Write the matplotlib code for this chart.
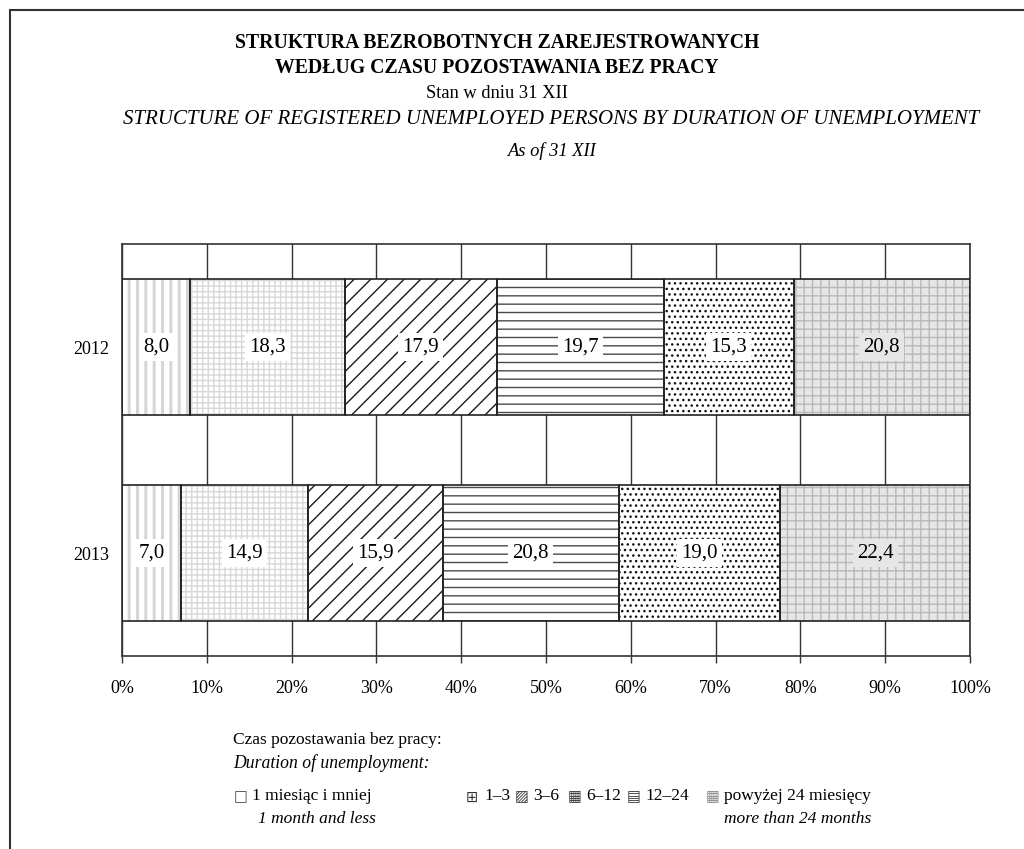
import matplotlib
matplotlib.use("Agg")
import matplotlib.pyplot as plt
import numpy as np
from matplotlib.lines import Line2D

plt.rcParams['font.family'] = ['Liberation Serif', 'DejaVu Sans']
plt.rcParams['font.size'] = 13
plt.rcParams['hatch.linewidth'] = 1.0

# data
years = ['2012', '2013']
categories = ['1 miesiąc i mniej', '1–3', '3–6', '6–12', '12–24', 'powyżej 24 miesięcy']
v2012 = [8.0, 18.3, 17.9, 19.7, 15.3, 20.8]
v2013 = [7.0, 14.9, 15.9, 20.8, 19.0, 22.4]
xticks = [0, 10, 20, 30, 40, 50, 60, 70, 80, 90, 100]

# styles for each segment
faces = ['white', 'white', 'white', 'white', 'white', '#e6e6e6']
hcols = ['#d6d6d6', '#d8d8d8', '#1a1a1a', '#4a4a4a', '#111111', '#b8b8b8']
hatches = ['||', '+++', '//', '--', '...', '++']
hlw = [2.2, 1.0, 1.0, 1.0, 1.0, 1.0]

W, H = 1024, 849
fig = plt.figure(figsize=(W / 100, H / 100), dpi=100)

def px(x, y):
    return x / W, 1 - y / H

# page frame (top and left edges only visible)
fig.add_artist(Line2D([10 / W, 1.0], [1 - 10 / H] * 2, color='#333333', lw=1.5, transform=fig.transFigure))
fig.add_artist(Line2D([10 / W] * 2, [1 - 10 / H, 0.0], color='#333333', lw=1.5, transform=fig.transFigure))

ax = fig.add_axes([122 / W, 1 - 656 / H, 848 / W, 412 / H])

data = [v2012, v2013]
ypos = np.arange(len(years))
for yi, vals in zip(ypos, data):
    left = 0.0
    for i, v in enumerate(vals):
        bars = ax.barh(yi, v, left=left, height=0.665, color=faces[i], edgecolor=hcols[i],
                       hatch=hatches[i], linewidth=0, zorder=2)
        for b in bars:
            if hasattr(b, 'set_hatch_linewidth'):
                b.set_hatch_linewidth(hlw[i])
        ax.barh(yi, v, left=left, height=0.665, fill=False, edgecolor='#222222', linewidth=1.2, zorder=3)
        ax.text(left + v / 2, yi, ('%.1f' % v).replace('.', ','), ha='center', va='center', fontsize=15,
                zorder=4, bbox=dict(boxstyle='square,pad=0.2', fc=faces[i], ec='none'))
        left += v

ax.set_xlim(0, 100)
ax.set_ylim(1.5, -0.5)
ax.set_xticks(xticks)
ax.set_xticklabels(['%d%%' % t for t in xticks])
ax.set_yticks(ypos)
ax.set_yticklabels(years)
ax.set_axisbelow(True)
ax.xaxis.grid(True, color='#333333', linewidth=1.0, zorder=0)
ax.tick_params(axis='x', length=5, width=1, color='#333333', pad=12, labelsize=13)
ax.tick_params(axis='y', length=0, pad=9, labelsize=13)
for s in ax.spines.values():
    s.set_color('#333333')
    s.set_linewidth(1.2)

# titles
fig.text(*px(497, 43), 'STRUKTURA BEZROBOTNYCH ZAREJESTROWANYCH', ha='center', va='center',
         fontweight='bold', fontsize=14.2)
fig.text(*px(497, 68), 'WEDŁUG CZASU POZOSTAWANIA BEZ PRACY', ha='center', va='center',
         fontweight='bold', fontsize=14.2)
fig.text(*px(497, 93), 'Stan w dniu 31 XII', ha='center', va='center', fontsize=13.3)
fig.text(*px(551, 119), 'STRUCTURE OF REGISTERED UNEMPLOYED PERSONS BY DURATION OF UNEMPLOYMENT',
         ha='center', va='center', style='italic', fontsize=15)
fig.text(*px(551, 151), 'As of 31 XII', ha='center', va='center', style='italic', fontsize=13.3)

# legend
fig.text(*px(233, 740), 'Czas pozostawania bez pracy:', ha='left', va='center', fontsize=12.5)
fig.text(*px(233, 763), 'Duration of unemployment:', ha='left', va='center', style='italic', fontsize=12.7)
icons = ['□', '⊞', '▨', '▦', '▤', '▦']
icol = ['#444444', '#333333', '#333333', '#333333', '#333333', '#888888']
text_x = [252, 484, 533, 586, 645, 724]
for k in range(len(categories)):
    fig.text(*px(text_x[k] - 18, 797), icons[k], ha='left', va='center', fontsize=10.5,
             family='DejaVu Sans', color=icol[k])
    fig.text(*px(text_x[k], 796), categories[k], ha='left', va='center', fontsize=12.5)
fig.text(*px(258, 819), '1 month and less', ha='left', va='center', style='italic', fontsize=12.5)
fig.text(*px(724, 819), 'more than 24 months', ha='left', va='center', style='italic', fontsize=12.5)

fig.savefig('out.png', dpi=100)
